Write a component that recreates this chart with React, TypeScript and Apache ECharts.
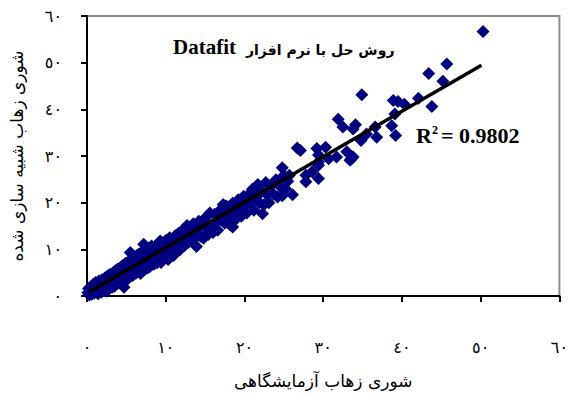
import React, { useEffect, useRef } from "react";
import * as echarts from "echarts";

// [measured, simulated] drainage salinity samples
const samples: [number, number][] = [
  [0.1, 0.7], [0.2, 1.6], [0.3, 0.2], [0.4, 1.0], [0.5, 2.0], [0.6, 0.4], [0.7, 1.4], [0.8, 2.5], [0.9, 0.6], [1.0, 1.7],
  [1.1, 2.9], [1.2, 0.9], [1.3, 2.1], [1.4, 0.5], [1.5, 3.2], [1.6, 1.5], [1.7, 2.6], [1.8, 0.8], [1.9, 3.5], [2.0, 1.9],
  [2.1, 2.8], [2.2, 1.2], [2.3, 3.9], [2.4, 2.3], [2.5, 1.0], [2.6, 4.3], [2.7, 3.0], [2.8, 1.6], [2.9, 4.6], [3.0, 2.6],
  [3.1, 3.7], [3.2, 1.9], [3.3, 5.0], [3.4, 3.2], [3.5, 2.1], [3.6, 5.4], [3.7, 4.1], [3.8, 2.6], [3.9, 5.8], [4.0, 3.5],
  [4.1, 4.7], [4.2, 2.8], [4.3, 6.2], [4.4, 4.4], [4.5, 3.1], [4.6, 6.6], [4.7, 5.0], [4.7, 1.9], [4.8, 3.4], [4.9, 7.0],
  [5.0, 4.1], [5.1, 5.9], [5.2, 3.7], [5.3, 7.4], [5.4, 5.2], [5.5, 4.3], [5.5, 9.3], [5.6, 7.8], [5.7, 6.1], [5.8, 4.4],
  [5.9, 8.3], [6.0, 5.1], [6.1, 7.0], [6.2, 4.9], [6.3, 8.6], [6.4, 6.2], [6.5, 5.2], [6.6, 9.0], [6.7, 7.3], [6.8, 4.8],
  [6.9, 9.2], [7.0, 6.1], [7.2, 8.2], [7.2, 11.1], [7.3, 5.6], [7.4, 10.0], [7.5, 7.4], [7.7, 6.0], [7.8, 10.2], [7.9, 8.6],
  [8.0, 6.3], [8.2, 10.7], [8.3, 7.9], [8.5, 6.8], [8.6, 10.5], [8.7, 9.4], [8.9, 7.1], [9.0, 11.1], [9.2, 8.8], [9.3, 11.8],
  [9.4, 7.2], [9.6, 10.3], [9.8, 8.2], [10.0, 11.9], [10.1, 9.5], [10.3, 7.8], [10.5, 12.5], [10.6, 9.3], [10.8, 11.3], [11.0, 8.7],
  [11.2, 12.9], [11.4, 10.6], [11.6, 13.4], [11.8, 9.9], [12.0, 12.1], [12.2, 14.2], [12.4, 10.8], [12.6, 13.0], [12.7, 15.1], [12.9, 11.5],
  [13.1, 13.9], [13.3, 12.0], [13.5, 15.5], [13.7, 12.4], [13.9, 10.6], [14.0, 14.4], [14.2, 16.0], [14.4, 12.8], [14.6, 15.2], [14.8, 12.4],
  [15.0, 16.7], [15.2, 14.3], [15.4, 13.2], [15.6, 17.8], [15.8, 15.2], [16.0, 13.6], [16.2, 17.5], [16.4, 15.8], [16.6, 14.1], [16.8, 18.2],
  [17.0, 16.3], [17.3, 19.6], [17.5, 15.6], [17.7, 19.3], [17.9, 17.0], [18.1, 15.4], [18.3, 18.9], [18.5, 19.9], [18.5, 14.8], [18.7, 17.2],
  [19.0, 16.6], [19.2, 20.6], [19.4, 18.3], [19.6, 17.1], [19.9, 21.4], [20.1, 19.4], [20.3, 17.8], [20.6, 21.8], [20.8, 19.9], [21.0, 22.9],
  [21.2, 18.4], [21.5, 21.2], [21.7, 23.9], [21.9, 20.0], [22.2, 22.4], [22.3, 17.6], [22.5, 19.6], [22.7, 24.3], [22.9, 21.7], [23.1, 20.0],
  [23.4, 23.6], [23.7, 21.8], [24.0, 24.9], [24.2, 21.2], [24.5, 23.5], [24.8, 27.5], [24.8, 21.5], [25.0, 25.8], [25.2, 23.0], [25.5, 24.6],
  [25.7, 25.9], [26.1, 21.7], [26.7, 31.7], [27.1, 31.2], [27.8, 24.5], [27.8, 25.9], [28.6, 26.6], [29.2, 31.6], [29.4, 28.0], [29.4, 25.2],
  [29.4, 30.2], [29.4, 28.7], [30.3, 31.9], [30.7, 29.4], [31.7, 29.8], [31.9, 37.9], [32.5, 36.2], [33.0, 30.9], [33.4, 29.1], [33.6, 29.4],
  [33.8, 29.8], [33.8, 35.8], [34.1, 36.7], [34.8, 33.3], [34.9, 43.1], [35.5, 34.7], [36.6, 36.2], [36.8, 34.0], [38.7, 36.5], [38.9, 41.9],
  [39.1, 39.0], [39.2, 34.4], [39.5, 41.7], [40.3, 41.1], [42.1, 42.4], [43.4, 47.7], [43.8, 40.6], [45.2, 46.0], [45.7, 49.7], [50.3, 56.7],
];
// linear trend line end points
const trendX = [0.25, 50.1];
const trendY = [0.85, 49.45];

const tickLabels: Record<number, string> = {
  0: "٠", 10: "١٠", 20: "٢٠", 30: "٣٠", 40: "٤٠", 50: "٥٠", 60: "٦٠",
};
const xTitle = "شوری زهاب آزمایشگاهی";
const yTitle = "شوری زهاب شبیه سازی شده";
const noteFa = "روش حل با نرم افزار";
const noteEn = "Datafit";
const r2Value = "0.9802";

export default function App() {
  const ref = useRef<HTMLDivElement>(null);
  useEffect(() => {
    if (!ref.current) return;
    const chart = echarts.init(ref.current, undefined, { renderer: "svg" });
    const faFont = "'DejaVu Sans', sans-serif";
    const serifBold = "'Liberation Serif', 'Times New Roman', serif";
    chart.setOption({
      animation: false,
      grid: {
        left: 86, right: 8, top: 16, bottom: 95,
        show: true, borderColor: "#8c8c8c", borderWidth: 2, backgroundColor: "transparent",
      },
      xAxis: {
        type: "value", min: 0, max: 60, interval: 10,
        splitLine: { show: false },
        axisLine: { lineStyle: { color: "#000", width: 2 } },
        axisTick: { length: 6, lineStyle: { color: "#000", width: 2 } },
        axisLabel: {
          margin: 43, color: "#000", fontSize: 16, fontFamily: faFont,
          formatter: (v: number) => tickLabels[v] ?? "",
        },
        name: xTitle, nameLocation: "middle", nameGap: 76,
        nameTextStyle: { color: "#000", fontSize: 17, fontFamily: faFont },
      },
      yAxis: {
        type: "value", min: 0, max: 60, interval: 10,
        splitLine: { show: false },
        axisLine: { lineStyle: { color: "#000", width: 2 } },
        axisTick: { length: 6, lineStyle: { color: "#000", width: 2 } },
        axisLabel: {
          margin: 25, color: "#000", fontSize: 16, fontFamily: faFont,
          formatter: (v: number) => tickLabels[v] ?? "",
        },
        name: yTitle, nameLocation: "middle", nameGap: 62, nameRotate: 90,
        nameTextStyle: { color: "#000", fontSize: 17, fontFamily: faFont },
      },
      series: [
        {
          type: "scatter",
          symbol: "diamond",
          symbolSize: 13,
          itemStyle: { color: "#000080", opacity: 1 },
          data: samples,
          z: 2,
        },
        {
          type: "line",
          showSymbol: false,
          symbol: "none",
          lineStyle: { color: "#000", width: 3.5 },
          data: trendX.map((x, i) => [x, trendY[i]]),
          z: 3,
        },
      ],
      graphic: [
        {
          type: "text", left: 173, top: 36, z: 10,
          style: { text: noteEn, font: `bold 21px ${serifBold}`, fill: "#000" },
        },
        {
          type: "text", left: 246, top: 43, z: 10,
          style: { text: noteFa, font: "bold 14px 'DejaVu Sans', sans-serif", fill: "#000" },
        },
        {
          type: "text", left: 416, top: 124, z: 10,
          style: { text: "R", font: `bold 22px ${serifBold}`, fill: "#000" },
        },
        {
          type: "text", left: 432, top: 124, z: 10,
          style: { text: "2", font: `bold 12px ${serifBold}`, fill: "#000" },
        },
        {
          type: "text", left: 441, top: 124, z: 10,
          style: { text: "= " + r2Value, font: `bold 22px ${serifBold}`, fill: "#000" },
        },
      ],
    });
    return () => chart.dispose();
  }, []);
  return <div ref={ref} style={{ width: 571, height: 394, position: "absolute", left: 0, top: 0 }} />;
}
